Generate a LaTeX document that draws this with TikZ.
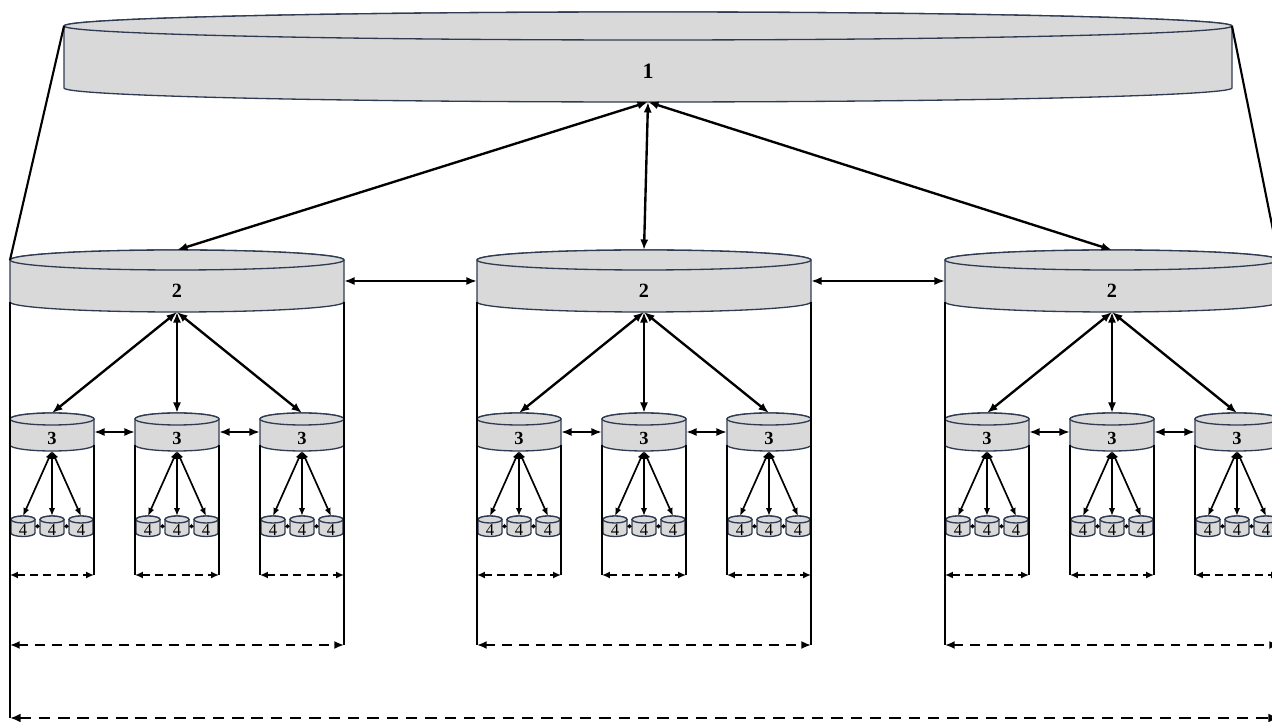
\documentclass[tikz,border=0pt]{standalone}
\usepackage{fontspec}
\setmainfont{Liberation Serif}
\usepackage{tikz}
\usetikzlibrary{arrows.meta}

\definecolor{drumfill}{HTML}{D9D9D9}
\definecolor{drumedge}{HTML}{2F3B52}

% cylinder: name, centre x, top y, bottom y, half width, y radius, label, label style
\newcommand{\drum}[8]{%
	\filldraw[drumline] (#2-#5,#3) -- (#2-#5,#4)
		arc[start angle=180, end angle=0, x radius=#5, y radius=#6]
		-- (#2+#5,#3)
		arc[start angle=0, end angle=-180, x radius=#5, y radius=#6] -- cycle;
	\draw[drumline] (#2,#3) ellipse[x radius=#5, y radius=#6];
	\coordinate (#1-t) at (#2,#3-#6);
	\coordinate (#1-b) at (#2,#4+#6);
	\coordinate (#1-l) at (#2-#5,{(#3+#4)/2});
	\coordinate (#1-r) at (#2+#5,{(#3+#4)/2});
	\coordinate (#1-tl) at (#2-#5,#3);
	\coordinate (#1-tr) at (#2+#5,#3);
	\coordinate (#1-bl) at (#2-#5,#4);
	\coordinate (#1-br) at (#2+#5,#4);
	\node[#8] (#1) at (#2,{(#3+#4)/2+#6}) {#7};
}

% level 3 cylinder with its three level 4 cylinders
\newcommand{\rack}[2]{%
	\drum{#1}{#2}{419}{445}{42}{6}{3}{subfont}
	\drum{#1a}{#2-29}{519.5}{533}{12}{3.5}{4}{leaffont}
	\drum{#1b}{#2}{519.5}{533}{12}{3.5}{4}{leaffont}
	\drum{#1c}{#2+29}{519.5}{533}{12}{3.5}{4}{leaffont}
	\coordinate (#1-el) at (#2-42,575);
	\coordinate (#1-er) at (#2+42,575);
	\draw[edge] (#1-bl) -- (#1-el);
	\draw[edge] (#1-br) -- (#1-er);
	\draw[span3] (#1-el) -- (#1-er);
	\draw[leaflink] (#1-b) -- (#1a-t);
	\draw[leaflink] (#1-b) -- (#1b-t);
	\draw[leaflink] (#1-b) -- (#1c-t);
	\draw[tinylink] (#1a-r) -- (#1b-l);
	\draw[tinylink] (#1b-r) -- (#1c-l);
}

\begin{document}
\begin{tikzpicture}[x=0.02cm, y=-0.02cm,
	drumline/.style={draw=drumedge, fill=drumfill, line width=0.75pt},
	topfont/.style={font=\bfseries\fontsize{12.5}{14}\selectfont, inner sep=0pt},
	midfont/.style={font=\bfseries\fontsize{11.5}{13}\selectfont, inner sep=0pt},
	subfont/.style={font=\bfseries\fontsize{10.5}{12}\selectfont, inner sep=0pt},
	leaffont/.style={font=\fontsize{9.5}{10}\selectfont, inner sep=0pt},
	edge/.style={line width=1.2pt},
	link/.style={{Latex[length=6pt,width=4.6pt]}-{Latex[length=6pt,width=4.6pt]}, line width=1.35pt},
	leaflink/.style={{Latex[length=4.5pt,width=3.6pt]}-{Latex[length=4.5pt,width=3.6pt]}, line width=0.95pt},
	tinylink/.style={{Latex[length=1.5pt,width=3pt]}-{Latex[length=1.5pt,width=3pt]}, line width=0.9pt},
	span3/.style={{Latex[length=4.5pt,width=4pt]}-{Latex[length=4.5pt,width=4pt]}, dash pattern=on 4.5pt off 3pt, line width=1.05pt},
	span2/.style={{Latex[length=5.5pt,width=4.6pt]}-{Latex[length=5.5pt,width=4.6pt]}, dash pattern=on 5.5pt off 4pt, line width=1.4pt},
	span1/.style={{Latex[length=6pt,width=5pt]}-{Latex[length=6pt,width=5pt]}, dash pattern=on 6.5pt off 4.5pt, line width=1.7pt},
	]
	\useasboundingbox (0,0) rectangle (1272,722);
	\clip (0,0) rectangle (1272,722);
	
	%Nodes
	\drum{Top}{648}{26}{88}{584}{14}{1}{topfont}
	\drum{Mid1}{177}{260}{302}{167}{10}{2}{midfont}
	\drum{Mid2}{644}{260}{302}{167}{10}{2}{midfont}
	\drum{Mid3}{1112}{260}{302}{167}{10}{2}{midfont}
	\rack{Sub11}{52}
	\rack{Sub12}{177}
	\rack{Sub13}{302}
	\rack{Sub21}{519}
	\rack{Sub22}{644}
	\rack{Sub23}{769}
	\rack{Sub31}{987}
	\rack{Sub32}{1112}
	\rack{Sub33}{1237}
	\coordinate (Base2) at (0,645);
	\coordinate (Base1) at (0,718);
	
	%Lines
	\draw[edge] (Top-tl) -- (Mid1-tl);
	\draw[edge] (Top-tr) -- (Mid3-tr);
	\draw[edge] (Mid1-bl) -- (Mid1-bl |- Base1);
	\draw[edge] (Mid1-br) -- (Mid1-br |- Base2);
	\draw[edge] (Mid2-bl) -- (Mid2-bl |- Base2);
	\draw[edge] (Mid2-br) -- (Mid2-br |- Base2);
	\draw[edge] (Mid3-bl) -- (Mid3-bl |- Base2);
	\draw[edge] (Mid3-br) -- (Mid3-br |- Base2);
	\draw[span2] (Mid1-bl |- Base2) -- (Mid1-br |- Base2);
	\draw[span2] (Mid2-bl |- Base2) -- (Mid2-br |- Base2);
	\draw[span2] (Mid3-bl |- Base2) -- (Mid3-br |- Base2);
	\draw[span1] (Mid1-bl |- Base1) -- (Mid3-br |- Base1);
	
	\draw[link] (Top-b) -- (Mid1-t);
	\draw[link] (Top-b) -- (Mid2-t);
	\draw[link] (Top-b) -- (Mid3-t);
	\draw[link] (Mid1-r) -- (Mid2-l);
	\draw[link] (Mid2-r) -- (Mid3-l);
	
	\draw[link] (Mid1-b) -- (Sub11-t);
	\draw[link] (Mid1-b) -- (Sub12-t);
	\draw[link] (Mid1-b) -- (Sub13-t);
	\draw[link] (Mid2-b) -- (Sub21-t);
	\draw[link] (Mid2-b) -- (Sub22-t);
	\draw[link] (Mid2-b) -- (Sub23-t);
	\draw[link] (Mid3-b) -- (Sub31-t);
	\draw[link] (Mid3-b) -- (Sub32-t);
	\draw[link] (Mid3-b) -- (Sub33-t);
	
	\draw[link] (Sub11-r) -- (Sub12-l);
	\draw[link] (Sub12-r) -- (Sub13-l);
	\draw[link] (Sub21-r) -- (Sub22-l);
	\draw[link] (Sub22-r) -- (Sub23-l);
	\draw[link] (Sub31-r) -- (Sub32-l);
	\draw[link] (Sub32-r) -- (Sub33-l);
	
\end{tikzpicture}
\end{document}
